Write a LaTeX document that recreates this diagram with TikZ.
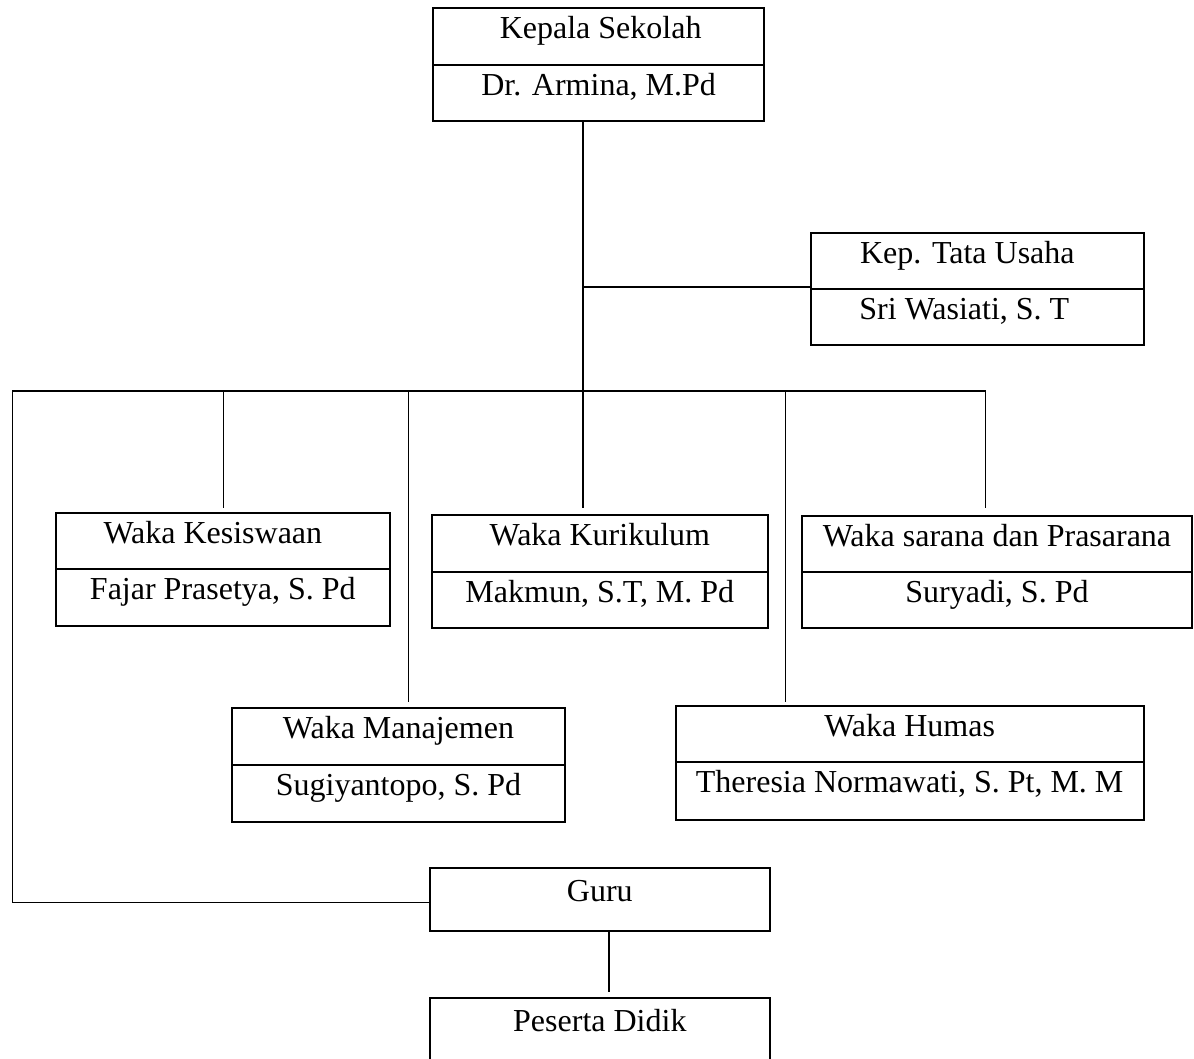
\documentclass[tikz,border=0pt]{standalone}
\usepackage{fontspec}
\setmainfont{Liberation Serif}
\usetikzlibrary{calc}
\tikzset{
  box/.style={draw=black, line width=2pt, inner sep=0pt, outer sep=0pt, rectangle},
  conn/.style={draw=black, line width=1.5pt},
  lbl/.style={anchor=base, inner sep=0pt, font=\fontsize{32}{38}\selectfont}
}
\def\subshift{0}
% name, x1, y1, x2, ydiv, y2, title, sub, title x shift
\newcommand\orgbox[9]{%
  \node[box, minimum width={#4-#2}, minimum height={#6-#3}] (#1) at ({(#2+#4)/2},{(#3+#6)/2}) {};
  \draw[box] (#2,#5) -- (#4,#5);
  \node[lbl] (#1-title) at ({(#2+#4)/2+#9},{#3+30.5}) {#7};
  \node[lbl] (#1-name) at ({(#2+#4)/2+\subshift},{#5+30.5}) {#8};
}
\begin{document}
\begin{tikzpicture}[x=1pt,y=-1pt]
\useasboundingbox (0,0) rectangle (1194,1058);
\fill[white] (0,0) rectangle (1194,1058);
\clip (0,0) rectangle (1194,1058);

% boxes
\orgbox{kep}{433.3}{8}{764}{65}{120.5}{Kepala Sekolah}{Dr. Armina, M.Pd}{2}
\def\subshift{-13}
\orgbox{tu}{810.7}{232.5}{1144}{289}{344.7}{Kep. Tata Usaha}{Sri Wasiati, S. T}{-10}
\def\subshift{0}
\orgbox{kes}{55.7}{513}{390}{569}{625.7}{Waka Kesiswaan}{Fajar Prasetya, S. Pd}{-10}
\orgbox{kur}{431.7}{515}{768}{571.5}{628}{Waka Kurikulum}{Makmun, S.T, M. Pd}{0}
\orgbox{sar}{802}{515.7}{1192}{572.3}{628.3}{Waka sarana dan Prasarana}{Suryadi, S. Pd}{0}
\orgbox{man}{232}{708}{565}{764.7}{821.7}{Waka Manajemen}{Sugiyantopo, S. Pd}{0}
\orgbox{hum}{675.5}{705.7}{1143.8}{761.7}{820}{Waka Humas}{Theresia Normawati, S. Pt, M. M}{0}

\node[box, minimum width=340.3, minimum height=62.7] (guru) at (599.85,899.35) {};
\node[lbl] (guru-title) at (599.85,901.7) {Guru};
\node[box, minimum width=340.3, minimum height=120] (peserta) at (599.85,1057.7) {};
\node[lbl] (peserta-title) at (599.85,1031) {Peserta Didik};

% connector coordinates
\coordinate (hub) at (583,391);
\coordinate (busL) at (12.3,391);
\coordinate (busR) at (985.7,391);
\coordinate (dKes) at (223.7,391);
\coordinate (dMan) at (408.3,391);
\coordinate (dKur) at (583,391);
\coordinate (dHum) at (785.6,391);
\coordinate (dSar) at (985.7,391);
\coordinate (gp) at (609,0);

% connectors
\draw[conn] (kep.south -| hub) -- (hub);
\draw[conn] ($(tu.west -| hub)+(0,-1.5)$) -- ($(tu.west)+(0,-1.5)$);
\draw[conn] (busL) -- (busR);
\draw[conn] (dKes) -- ($(dKes |- kes.north)+(0,-5)$);
\draw[conn] (dKur) -- ($(dKur |- kur.north)+(0,-7)$);
\draw[conn] (dSar) -- ($(dSar |- sar.north)+(0,-7.7)$);
\draw[conn] (dMan) -- ($(dMan |- man.north)+(0,-5.7)$);
\draw[conn] (dHum) -- ($(dHum |- hum.north)+(0,-3.4)$);
\draw[conn] (busL) |- ($(guru.west)+(0,3.3)$);
\draw[conn] (guru.south -| gp) -- ($(peserta.north -| gp)+(0,-6)$);
\end{tikzpicture}
\end{document}
